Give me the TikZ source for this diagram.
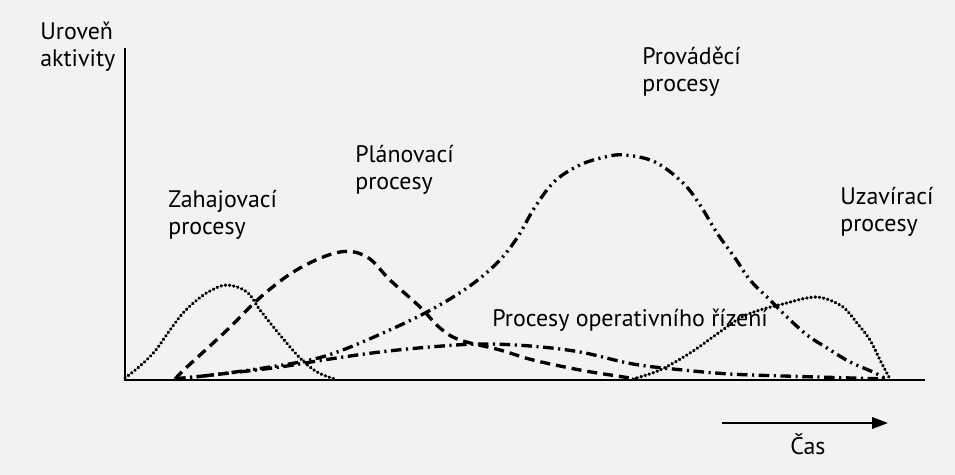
\documentclass[tikz,border=0pt]{standalone}
\usepackage{fontspec}
\setmainfont{PT Sans}
\usetikzlibrary{arrows.meta}
\begin{document}
\begin{tikzpicture}[x=0.02cm,y=-0.02cm,
  lbl/.style={anchor=base west,inner sep=0pt,align=left,
    font=\fontsize{13.6pt}{15.9pt}\selectfont},
  axis/.style={line width=1.4pt},
  curve/.style={line width=1.9pt},
  dots/.style={line width=2pt,line cap=round,dash pattern=on 0.1pt off 2.3pt},
  longdash/.style={curve,dash pattern=on 5.7pt off 3.4pt},
  dashdot/.style={curve,dash pattern=on 6pt off 2.6pt on 1.2pt off 2.6pt},
  dashdotdot/.style={curve,dash pattern=on 6pt off 2.6pt on 1.2pt off 2.6pt on 1.2pt off 2.6pt}]

% paper
\fill[black!5] (0,0) rectangle (955,475);
\useasboundingbox (0,0) rectangle (955,475);

% axes
\coordinate (top) at (125,48);
\coordinate (origin) at (125,380);
\coordinate (xend) at (925,380);
\draw[axis] (top) -- (origin) -- (xend);

% time arrow
\coordinate (tstart) at (722,423);
\coordinate (tend) at (888,423);
\draw[line width=1.1pt,-{Triangle[length=9pt,width=6.5pt]}] (tstart) -- (tend);

% initiating processes
\draw[dots] plot[smooth,tension=0.6] coordinates {
  (125,378) (140,366) (155,351) (170,330) (183,313) (197,300)
  (210,291) (227,285) (247,292) (260,310) (280,335) (300,358)
  (317,372) (335,379)};

% planning processes
\draw[longdash] plot[smooth,tension=0.6] coordinates {
  (175,379) (187,367) (225,332) (263,295) (300,268) (340,252)
  (367,257) (390,280) (420,307) (440,328) (460,340) (500,350)
  (533,360) (580,370) (617,376) (637,379)};

% executing processes
\draw[dashdotdot] plot[smooth,tension=0.6] coordinates {
  (175,379) (220,374) (270,367) (310,360) (340,351) (383,333)
  (427,312) (467,288) (497,263) (517,238) (535,207) (555,181)
  (580,165) (605,157) (625,155) (655,162) (683,183) (700,205)
  (717,233) (735,258) (750,280) (770,300) (787,317) (807,335)
  (827,348) (850,362) (873,372) (886,379)};

% monitoring and controlling processes
\draw[dashdot] plot[smooth,tension=0.6] coordinates {
  (175,379) (230,373) (280,367) (330,359) (380,352) (430,347)
  (480,344) (530,346) (580,352) (633,364) (683,370) (730,374)
  (783,376) (888,379)};

% closing processes
\draw[dots] plot[smooth,tension=0.6] coordinates {
  (633,379) (660,370) (690,353) (717,334) (740,318) (760,310)
  (783,304) (807,298) (823,298) (843,307) (857,323) (870,340)
  (880,360) (890,379)};

% labels
\node[lbl] (ylab) at (40,67) {Uroveň\\aktivity};
\node[lbl] (zah) at (168,235) {Zahajovací\\procesy};
\node[lbl] (plan) at (355,190) {Plánovací\\procesy};
\node[lbl] (prov) at (642,92) {Prováděcí\\procesy};
\node[lbl] (uzav) at (840,232) {Uzavírací\\procesy};
\node[lbl] (oper) at (492,327) {Procesy operativního řízení};
\node[lbl] (cas) at (790,454) {Čas};
\end{tikzpicture}
\end{document}
